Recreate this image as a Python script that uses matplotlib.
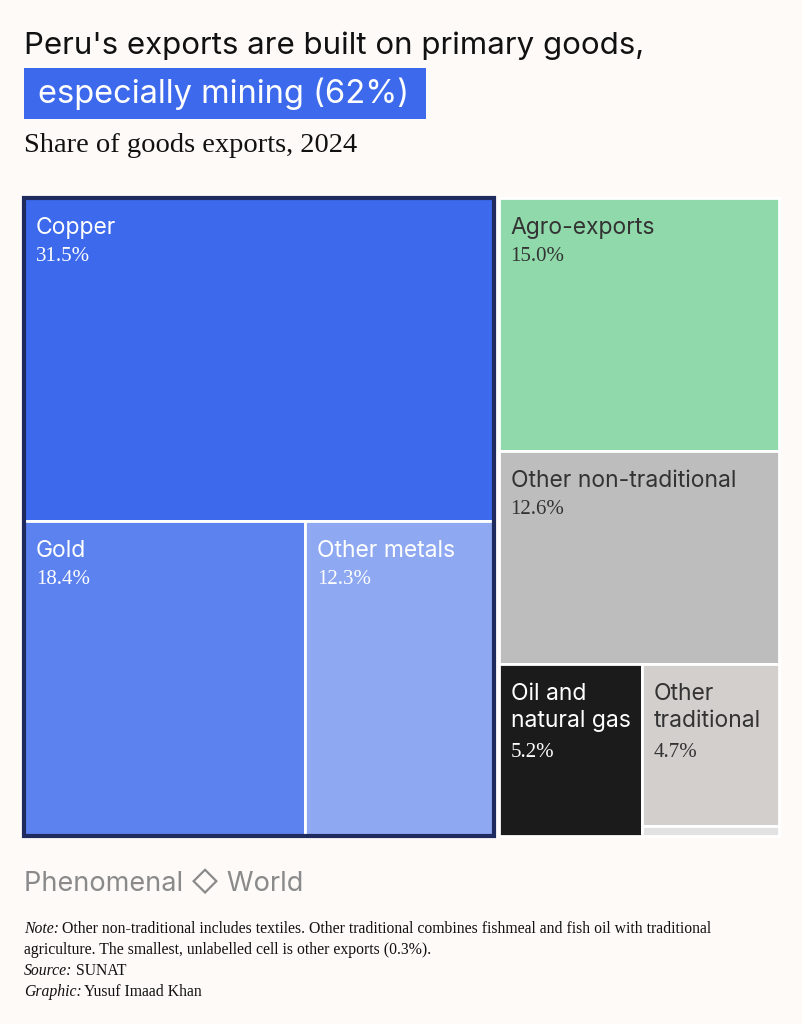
import matplotlib.pyplot as plt
from matplotlib.patches import Rectangle

# data (share of goods exports, %)
mining_names = ['Copper', 'Gold', 'Other metals']
mining_vals = [31.5, 18.4, 12.3]
other_names = ['Agro-exports', 'Other non-traditional', 'Oil and\nnatural gas', 'Other\ntraditional', '']
other_vals = [15.0, 12.6, 5.2, 4.7, 0.3]
colors = {'Copper': '#3D69EC', 'Gold': '#5B82EE', 'Other metals': '#8EA8F1',
          'Agro-exports': '#90D9AB', 'Other non-traditional': '#BDBDBD',
          'Oil and\nnatural gas': '#1B1B1B', 'Other\ntraditional': '#D3CFCC', '': '#E2E2E2'}
dark_text = ['Agro-exports', 'Other non-traditional', 'Other\ntraditional']

bg = '#FDFAF8'
fig = plt.figure(figsize=(8.03, 10.24), dpi=100, facecolor=bg)
ax = fig.add_axes([0, 0, 1, 1])
ax.set_xlim(0, 803)
ax.set_ylim(1024, 0)
ax.axis('off')

sans = ['Inter', 'DejaVu Sans']
serif = 'Liberation Serif'

# treemap area
X0, X1, Y0, Y1 = 24, 779, 198, 836
W, H = X1 - X0, Y1 - Y0
total = sum(mining_vals) + sum(other_vals)
gap = 5

def cell(x, y, w, h, name, val):
    ax.add_patch(Rectangle((x, y), w, h, facecolor=colors[name], edgecolor='white', lw=2))
    if name:
        c = '#333333' if name in dark_text else 'white'
        nl = name.count('\n')
        ax.text(x + 12, y + 19, name, color=c, fontsize=16.5, family=sans, va='top', linespacing=1.3)
        ax.text(x + 12, y + 49 + nl * 30, f'{val:.1f}%', color=c, fontsize=15, family=serif, va='top')

# mining block
mw = W * sum(mining_vals) / total
ch = H * mining_vals[0] / sum(mining_vals)
cell(X0, Y0, mw, ch, mining_names[0], mining_vals[0])
gw = mw * mining_vals[1] / (mining_vals[1] + mining_vals[2])
cell(X0, Y0 + ch, gw, H - ch, mining_names[1], mining_vals[1])
cell(X0 + gw, Y0 + ch, mw - gw, H - ch, mining_names[2], mining_vals[2])
ax.add_patch(Rectangle((X0, Y0), mw, H, facecolor='none', edgecolor='#1F2A5E', lw=3))

# other block
rx = X0 + mw + gap
rw = X1 - rx
ot = sum(other_vals)
y = Y0
for i in range(2):
    h = H * other_vals[i] / ot
    cell(rx, y, rw, h, other_names[i], other_vals[i])
    y += h
rest = sum(other_vals[2:])
hh = Y1 - y
ow = rw * other_vals[2] / rest
cell(rx, y, ow, hh, other_names[2], other_vals[2])
th = hh * other_vals[3] / (other_vals[3] + other_vals[4])
cell(rx + ow, y, rw - ow, th, other_names[3], other_vals[3])
cell(rx + ow, y + th, rw - ow, hh - th, other_names[4], other_vals[4])

# titles
ax.text(24, 46, "Peru's exports are built on primary goods,", fontsize=22.5, family=sans, va='center', color='#111111')
ax.add_patch(Rectangle((24, 68), 402, 51, facecolor='#3D69EC', edgecolor='none'))
ax.text(38, 94, "especially mining (62%)", fontsize=23.5, family=sans, va='center', color='white')
ax.text(24, 146, "Share of goods exports, 2024", fontsize=20.5, family=serif, va='center', color='#111111')

# logo
ax.text(24, 884, "Phenomenal \u25c7 World", fontsize=19.5, family=sans, va='center', color='#8A8A8A')

# notes
fs = 11.3
ax.text(24, 929, "Note:", fontsize=fs, family=serif, style='italic', va='center', color='#111111')
ax.text(62, 929, "Other non-traditional includes textiles. Other traditional combines fishmeal and fish oil with traditional",
        fontsize=fs, family=serif, va='center', color='#111111')
ax.text(24, 950, "agriculture. The smallest, unlabelled cell is other exports (0.3%).", fontsize=fs, family=serif, va='center', color='#111111')
ax.text(24, 971, "Source:", fontsize=fs, family=serif, style='italic', va='center', color='#111111')
ax.text(76, 971, "SUNAT", fontsize=fs, family=serif, va='center', color='#111111')
ax.text(24, 992, "Graphic:", fontsize=fs, family=serif, style='italic', va='center', color='#111111')
ax.text(84, 992, "Yusuf Imaad Khan", fontsize=fs, family=serif, va='center', color='#111111')

fig.savefig('out.png', dpi=100, facecolor=bg)
